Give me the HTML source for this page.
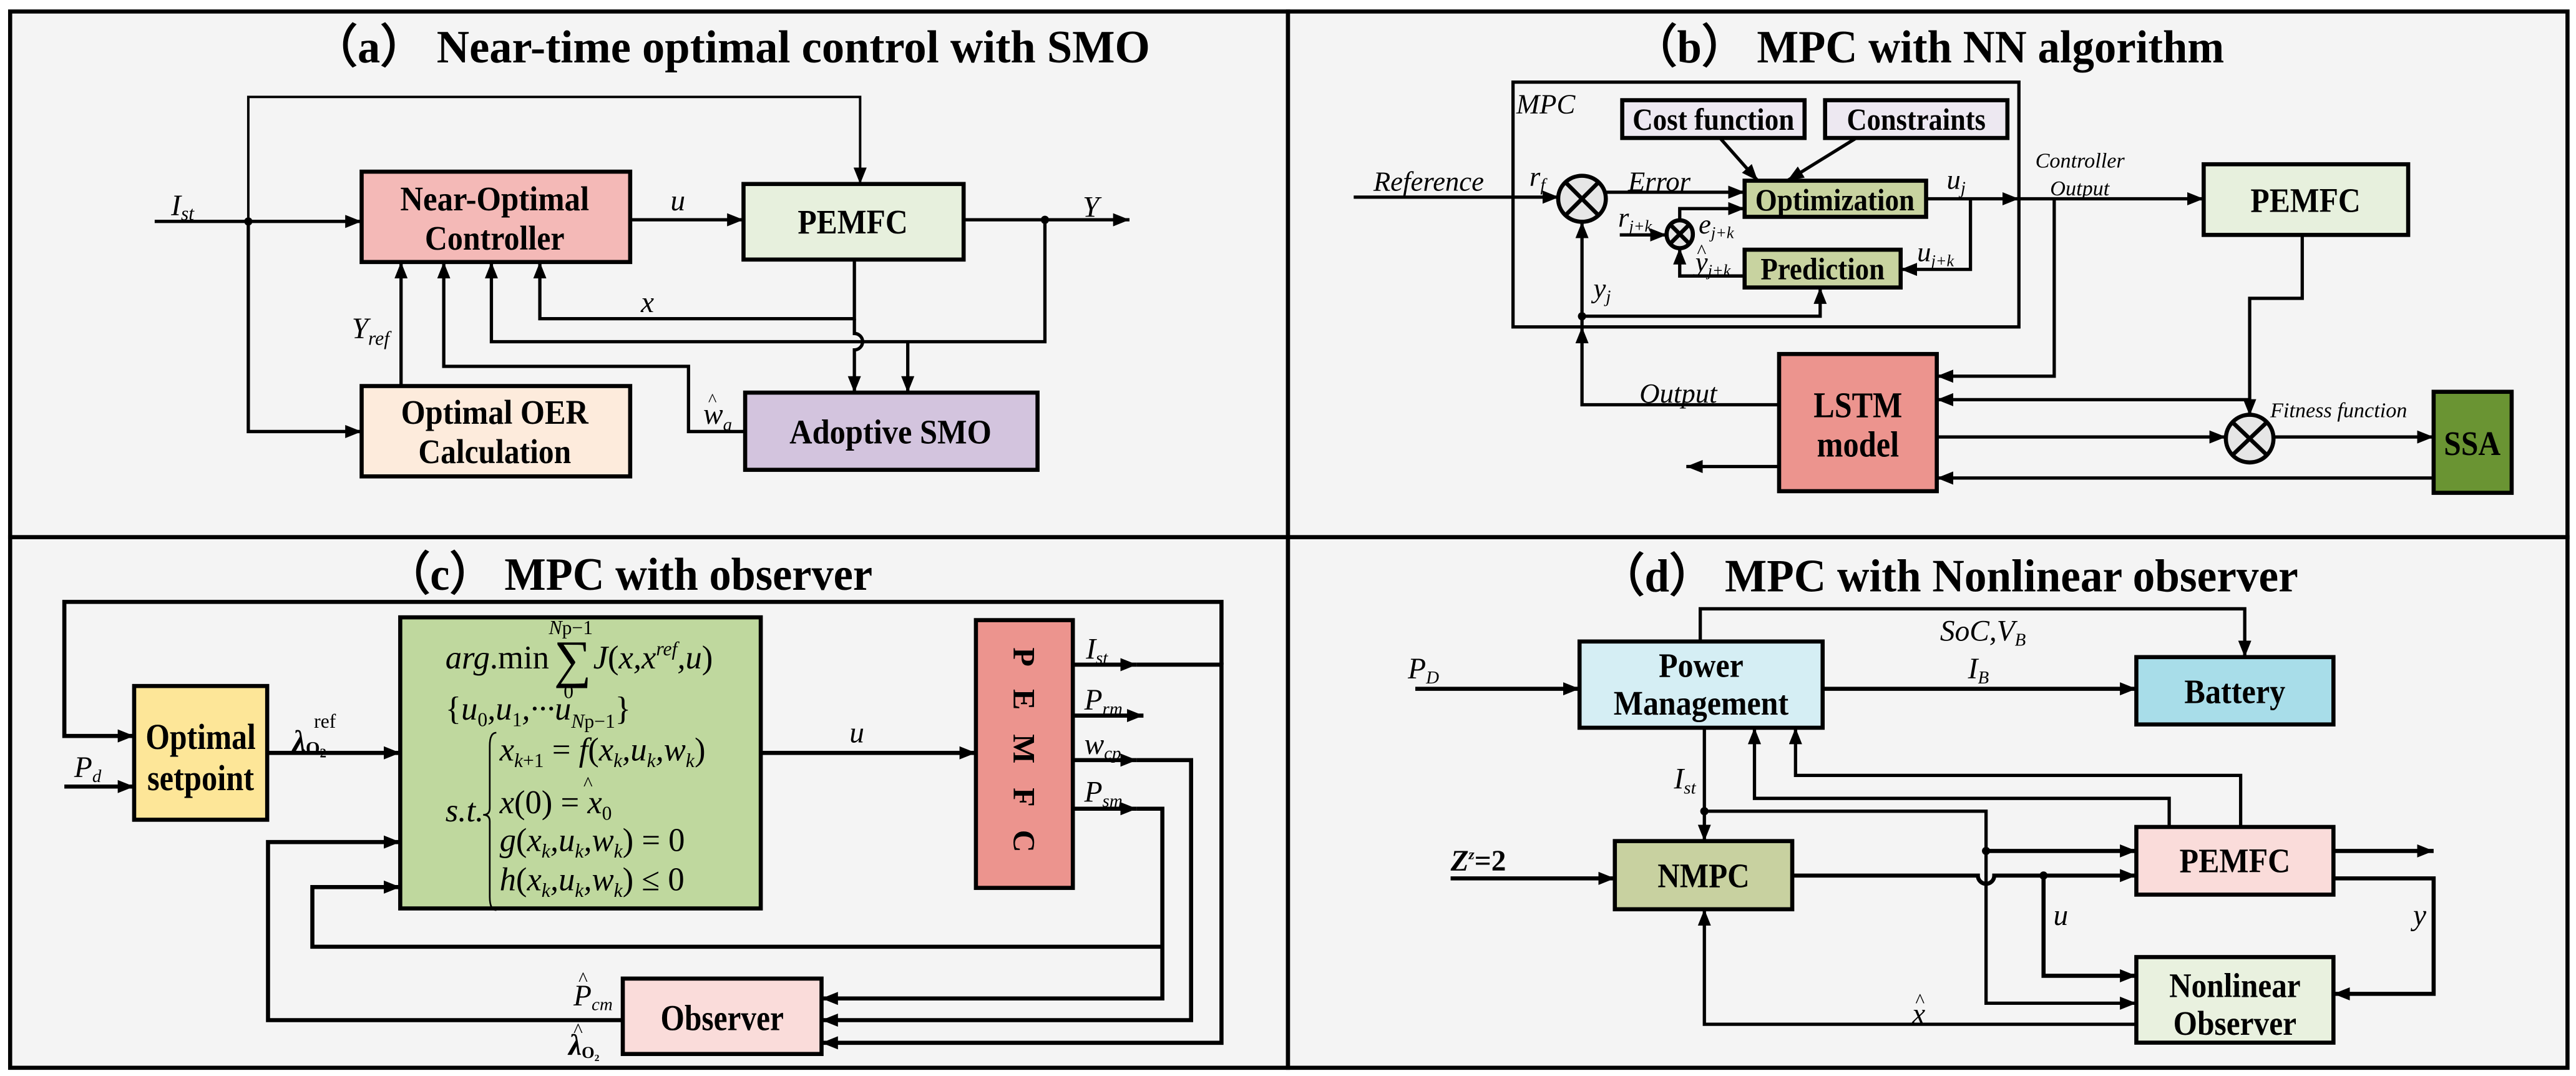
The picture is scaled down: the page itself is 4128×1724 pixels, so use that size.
<!DOCTYPE html>
<html><head><meta charset="utf-8"><style>html,body{margin:0;padding:0;background:#fff}svg{display:block}svg text{font-family:"Liberation Serif","DejaVu Serif",serif}</style></head><body>
<svg width="4128" height="1724" viewBox="0 0 1568 655" xmlns="http://www.w3.org/2000/svg">
<defs>
<marker id="a" viewBox="0 0 10 8" refX="10" refY="4" markerWidth="10" markerHeight="8" markerUnits="userSpaceOnUse" orient="auto"><path d="M0,0L10,4L0,8z" fill="#000"/></marker>
</defs>
<rect width="1568" height="655" fill="#fff"/>
<g fill="#f4f4f4" stroke="#000" stroke-width="2.5">
<rect x="6" y="7" width="778" height="320"/>
<rect x="784" y="7" width="779" height="320"/>
<rect x="6" y="327" width="778" height="323"/>
<rect x="784" y="327" width="779" height="323"/>
</g>
<g font-weight="bold" font-size="28" text-anchor="start">
<text x="190" y="38" textLength="510" lengthAdjust="spacingAndGlyphs">（a） Near-time optimal control with SMO</text>
<text x="994" y="38" textLength="360" lengthAdjust="spacingAndGlyphs">（b） MPC with NN algorithm</text>
<text x="235" y="359" textLength="296" lengthAdjust="spacingAndGlyphs">（c） MPC with observer</text>
<text x="974" y="360" textLength="425" lengthAdjust="spacingAndGlyphs">（d） MPC with Nonlinear observer</text>
</g>

<!-- Panel A -->
<g stroke="#000" stroke-width="2.5">
<rect x="220" y="104.5" width="163.5" height="55" fill="#f4b9b7"/>
<rect x="452.5" y="112" width="134" height="46" fill="#e7f0dd"/>
<rect x="220" y="235" width="163.5" height="55" fill="#fdebdc"/>
<rect x="453.5" y="239" width="178" height="47" fill="#d3c4de"/>
</g>
<g stroke="#000" stroke-width="2" fill="none" marker-end="url(#a)">
<path d="M94,134.8H220"/>
<path d="M151,134.8V59H523.5V112" stroke-width="1.5"/>
<path d="M151,134.8V262.7H220"/>
<path d="M383.5,133.8H452.5"/>
<path d="M586.5,133.8H687.5"/>
<path d="M520,158V194H328.5V159.5"/>
<path d="M520,194V203a5,5 0 0 1 0,10V239"/>
<path d="M636,133.8V208H299V159.5"/>
<path d="M552.5,208V239"/>
<path d="M453.5,262.7H419V223H270V159.5"/>
<path d="M244,235V159.5"/>
</g>
<circle cx="151" cy="134.8" r="2.5"/><circle cx="636" cy="133.8" r="2.5"/>
<g font-weight="bold" font-size="21" text-anchor="middle" lengthAdjust="spacingAndGlyphs">
<text x="301" y="128" textLength="115" lengthAdjust="spacingAndGlyphs">Near-Optimal</text><text x="301" y="152" textLength="85" lengthAdjust="spacingAndGlyphs">Controller</text>
<text x="519" y="142" textLength="67" lengthAdjust="spacingAndGlyphs">PEMFC</text>
<text x="301" y="258" textLength="114" lengthAdjust="spacingAndGlyphs">Optimal OER</text><text x="301" y="282" textLength="93" lengthAdjust="spacingAndGlyphs">Calculation</text>
<text x="542" y="270" textLength="123" lengthAdjust="spacingAndGlyphs">Adoptive SMO</text>
</g>
<g font-style="italic" font-size="18">
<text x="104" y="131">I<tspan font-size="12" dy="3">st</tspan></text>
<text x="408" y="128">u</text>
<text x="659" y="132">Y</text>
<text x="390" y="190">x</text>
<text x="214" y="206">Y<tspan font-size="12" dy="4">ref</tspan></text>
<text x="428" y="258">w<tspan font-size="11" dy="4">a</tspan></text>
<text x="431" y="247" font-size="11" font-style="normal">^</text>
</g>

<!-- Panel B -->
<rect x="921" y="50" width="308" height="149" fill="none" stroke="#000" stroke-width="2"/>
<g stroke="#000" stroke-width="2.5">
<rect x="987.5" y="61" width="111" height="23" fill="#ede8f1"/>
<rect x="1111" y="61" width="111" height="23" fill="#ede8f1"/>
<rect x="1062" y="110" width="110.5" height="22" fill="#c8d3a0"/>
<rect x="1062" y="152" width="95" height="23" fill="#c8d3a0"/>
<rect x="1341.5" y="100" width="124.5" height="43" fill="#e7f0dd"/>
<rect x="1083" y="215.5" width="96" height="83.5" fill="#ec948e"/>
<rect x="1481.5" y="238.5" width="47.5" height="61.5" fill="#6a9433"/>
</g>
<g stroke="#000" stroke-width="2" fill="none" marker-end="url(#a)">
<path d="M824,120H949"/>
<path d="M977,117H1062"/>
<path d="M1022.5,134V127H1062"/>
<path d="M986,143H1014.5"/>
<path d="M1062,168H1022.5V151"/>
<path d="M1047,84L1070,110"/>
<path d="M1130,84L1088,110"/>
<path d="M1172.5,121H1229"/>
<path d="M1229,121H1341.5"/>
<path d="M1199.5,121V164H1157"/>
<path d="M1083,246.4H963V199"/>
<path d="M963,199V135"/>
<path d="M963,192.5H1108V175"/>
<path d="M1250.5,121V229H1179"/>
<path d="M1401.5,143V181.6H1369.5V253"/>
<path d="M1369.5,243.3H1179"/>
<path d="M1179,266H1355"/>
<path d="M1384,266H1481.5"/>
<path d="M1481.5,291H1179"/>
<path d="M1083,284H1026.5"/>
</g>
<circle cx="963" cy="192.5" r="2.5"/>
<g stroke="#000" stroke-width="2.5" fill="#e6e6e6">
<ellipse cx="963" cy="121" rx="14.5" ry="14"/>
<ellipse cx="1022.5" cy="142.6" rx="8" ry="8.5"/>
<ellipse cx="1369.5" cy="267" rx="14.5" ry="14.5"/>
</g>
<g stroke="#000" stroke-width="2.5">
<path d="M953,111L973,131M973,111L953,131"/>
<path d="M1017,137L1028,148M1028,137L1017,148"/>
<path d="M1359,257L1380,277M1380,257L1359,277"/>
</g>
<g font-weight="bold" font-size="19" text-anchor="middle">
<text x="1043" y="79" textLength="98.5" lengthAdjust="spacingAndGlyphs">Cost function</text>
<text x="1166.5" y="79" textLength="84.5" lengthAdjust="spacingAndGlyphs">Constraints</text>
<text x="1117" y="128" textLength="97" lengthAdjust="spacingAndGlyphs">Optimization</text>
<text x="1109.5" y="170" textLength="75.5" lengthAdjust="spacingAndGlyphs">Prediction</text>
<text x="1403.5" y="129" font-size="21" textLength="67" lengthAdjust="spacingAndGlyphs">PEMFC</text>
<text x="1131" y="254" font-size="22" textLength="54" lengthAdjust="spacingAndGlyphs">LSTM</text>
<text x="1131" y="278" font-size="22" textLength="50" lengthAdjust="spacingAndGlyphs">model</text>
<text x="1505" y="277" font-size="21" textLength="34.5" lengthAdjust="spacingAndGlyphs">SSA</text>
</g>
<g font-style="italic" font-size="17">
<text x="923" y="69">MPC</text>
<text x="836" y="116">Reference</text>
<text x="931" y="113">r<tspan font-size="11" dy="3">f</tspan></text>
<text x="991" y="116">Error</text>
<text x="1185" y="115">u<tspan font-size="11" dy="3">j</tspan></text>
<text x="1239" y="102" font-size="13">Controller</text>
<text x="1248" y="119" font-size="13">Output</text>
<text x="985" y="138">r<tspan font-size="10" dy="3">j+k</tspan></text>
<text x="1034" y="142">e<tspan font-size="10" dy="3">j+k</tspan></text>
<text x="1032" y="165">y<tspan font-size="10" dy="3">j+k</tspan></text>
<text x="1033" y="157" font-size="12" font-style="normal">^</text>
<text x="1167" y="159">u<tspan font-size="10" dy="3">j+k</tspan></text>
<text x="970" y="181">y<tspan font-size="11" dy="3">j</tspan></text>
<text x="998" y="245">Output</text>
<text x="1382" y="254" font-size="13">Fitness function</text>
</g>

<!-- Panel C -->
<g stroke="#000" stroke-width="2.5">
<rect x="81.5" y="417.6" width="81" height="81.4" fill="#fde698"/>
<rect x="243.5" y="375.8" width="219.5" height="177.2" fill="#bfd89e"/>
<rect x="594" y="377.5" width="59" height="163" fill="#ec948e"/>
<rect x="379" y="595.7" width="121" height="45.9" fill="#fadcda"/>
</g>
<g stroke="#000" stroke-width="2.5" fill="none" marker-end="url(#a)">
<path d="M743.5,404.6V366.4H39V448H81.5"/>
<path d="M39,478.8H81.5"/>
<path d="M162.5,458.3H243.5"/>
<path d="M463,458.3H594"/>
<path d="M653,404.6H692"/>
<path d="M653,435.6H696"/>
<path d="M653,462.7H692"/>
<path d="M653,492.3H692"/>
<path d="M692,404.6H743.5V634.8H500"/>
<path d="M692,462.7H725V621H500"/>
<path d="M692,492.3H707.5V607.8H500"/>
<path d="M707.5,576.3H190V540H243.5"/>
<path d="M379,621H163V512.6H243.5"/>
</g>
<g font-weight="bold" font-size="22" text-anchor="middle">
<text x="122" y="456" textLength="67" lengthAdjust="spacingAndGlyphs">Optimal</text><text x="122" y="481" textLength="65" lengthAdjust="spacingAndGlyphs">setpoint</text>
<text x="439.5" y="627" textLength="75" lengthAdjust="spacingAndGlyphs">Observer</text>
<text transform="translate(617,459) rotate(90)" font-size="19" letter-spacing="5">P E M F C</text>
</g>
<g font-style="italic" font-size="18">
<text x="45" y="473">P<tspan font-size="11" dy="3">d</tspan></text>
<text x="178" y="457" font-weight="bold">λ<tspan font-size="11" font-style="normal" dy="2">O<tspan font-size="8" dy="2">2</tspan></tspan></text>
<text x="191" y="443" font-size="12" font-style="normal">ref</text>
<text x="517" y="452">u</text>
<text x="661" y="401">I<tspan font-size="11" dy="3">st</tspan></text>
<text x="660" y="432">P<tspan font-size="11" dy="3">rm</tspan></text>
<text x="660" y="459">w<tspan font-size="11" dy="3">cp</tspan></text>
<text x="660" y="488">P<tspan font-size="11" dy="3">sm</tspan></text>
<text x="349" y="612">P<tspan font-size="11" dy="3">cm</tspan></text>
<text x="352" y="600" font-size="12" font-style="normal">^</text>
<text x="346" y="642" font-weight="bold">λ<tspan font-size="10" font-style="normal" dy="2">O₂</tspan></text>
<text x="349" y="631" font-size="12" font-style="normal">^</text>
</g>
<g font-style="italic" font-size="20">
<text x="271" y="407">arg<tspan font-style="normal">.min</tspan></text>
<text x="337" y="412" font-style="normal" font-size="32">∑</text>
<text x="334" y="386" font-size="12">N<tspan font-style="normal">p−1</tspan></text>
<text x="343" y="425" font-size="12" font-style="normal">0</text>
<text x="361" y="407">J<tspan font-style="normal">(</tspan>x,x<tspan font-size="12" dy="-8">ref</tspan><tspan dy="8">,u</tspan><tspan font-style="normal">)</tspan></text>
<text x="271" y="438"><tspan font-style="normal">{</tspan>u<tspan font-size="12" dy="4" font-style="normal">0</tspan><tspan dy="-4">,u</tspan><tspan font-size="12" dy="4" font-style="normal">1</tspan><tspan dy="-4">,···u</tspan><tspan font-size="12" dy="5">N<tspan font-style="normal">p−1</tspan></tspan><tspan dy="-5" font-style="normal">}</tspan></text>
<text x="271" y="500">s.t.</text>
<path d="M302,446 q-4,0 -4,8 v38 q0,4 -4,4 q4,0 4,4 v46 q0,8 4,8" fill="none" stroke="#000" stroke-width="1"/>
<text x="304" y="463">x<tspan font-size="12" dy="4">k<tspan font-style="normal">+1</tspan></tspan><tspan dy="-4" font-style="normal"> = </tspan>f<tspan font-style="normal">(</tspan>x<tspan font-size="12" dy="4">k</tspan><tspan dy="-4">,u</tspan><tspan font-size="12" dy="4">k</tspan><tspan dy="-4">,w</tspan><tspan font-size="12" dy="4">k</tspan><tspan dy="-4" font-style="normal">)</tspan></text>
<text x="304" y="495">x<tspan font-style="normal">(0) = </tspan>x<tspan font-size="12" dy="4" font-style="normal">0</tspan></text>
<text x="355" y="481" font-size="12" font-style="normal">^</text>
<text x="304" y="518">g<tspan font-style="normal">(</tspan>x<tspan font-size="12" dy="4">k</tspan><tspan dy="-4">,u</tspan><tspan font-size="12" dy="4">k</tspan><tspan dy="-4">,w</tspan><tspan font-size="12" dy="4">k</tspan><tspan dy="-4" font-style="normal">) = 0</tspan></text>
<text x="304" y="542">h<tspan font-style="normal">(</tspan>x<tspan font-size="12" dy="4">k</tspan><tspan dy="-4">,u</tspan><tspan font-size="12" dy="4">k</tspan><tspan dy="-4">,w</tspan><tspan font-size="12" dy="4">k</tspan><tspan dy="-4" font-style="normal">) ≤ 0</tspan></text>
</g>

<!-- Panel D -->
<g stroke="#000" stroke-width="2.5">
<rect x="961.5" y="390.5" width="148" height="52.5" fill="#d5eef4"/>
<rect x="1300.5" y="400" width="120" height="41" fill="#a8dde9"/>
<rect x="983" y="512" width="108" height="41.5" fill="#c8d1a0"/>
<rect x="1300.5" y="503.4" width="120" height="41.2" fill="#fadcda"/>
<rect x="1300.5" y="582.6" width="120" height="52.1" fill="#e9f1df"/>
</g>
<g stroke="#000" stroke-width="2.5" fill="none" marker-end="url(#a)">
<path d="M1035,390.5V370.6H1366.5V400" stroke-width="2"/>
<path d="M861.5,419.3H961.5"/>
<path d="M1109.5,419.3H1300.5"/>
<path d="M1037.5,443V512" stroke-width="2"/>
<path d="M1037.5,493.8H1209V610.7H1300.5" stroke-width="2"/>
<path d="M1209,518H1300.5"/>
<path d="M1320.5,503.4V486H1068V443" stroke-width="2"/>
<path d="M1364,503.4V472H1093V443" stroke-width="2"/>
<path d="M883,534.7H983"/>
<path d="M1091,533H1204a5,5 0 0 0 10,0H1300.5"/>
<path d="M1244,533V594H1300.5"/>
<path d="M1420.5,518H1481.5"/>
<path d="M1420.5,534.7H1481.5V605H1420.5"/>
<path d="M1300.5,623.5H1037.5V553.5" stroke-width="2"/>
</g>
<circle cx="1037.5" cy="493.8" r="2.5"/><circle cx="1209" cy="518" r="2.5"/><circle cx="1244" cy="533" r="2.5"/>
<g font-weight="bold" font-size="21" text-anchor="middle">
<text x="1035.5" y="412" textLength="51.5" lengthAdjust="spacingAndGlyphs">Power</text><text x="1035.5" y="435" textLength="106.5" lengthAdjust="spacingAndGlyphs">Management</text>
<text x="1360.5" y="428" textLength="61.5" lengthAdjust="spacingAndGlyphs">Battery</text>
<text x="1037" y="540" textLength="56" lengthAdjust="spacingAndGlyphs">NMPC</text>
<text x="1360.5" y="531" textLength="67.5" lengthAdjust="spacingAndGlyphs">PEMFC</text>
<text x="1360.5" y="607" textLength="80" lengthAdjust="spacingAndGlyphs">Nonlinear</text><text x="1360.5" y="630" textLength="75" lengthAdjust="spacingAndGlyphs">Observer</text>
</g>
<g font-style="italic" font-size="18">
<text x="1181" y="390">SoC,V<tspan font-size="11" dy="3">B</tspan></text>
<text x="857" y="413">P<tspan font-size="11" dy="3">D</tspan></text>
<text x="1198" y="413">I<tspan font-size="11" dy="3">B</tspan></text>
<text x="1019" y="480">I<tspan font-size="11" dy="3">st</tspan></text>
<text x="883" y="530" font-weight="bold">Z<tspan font-size="9" dy="-7">z</tspan><tspan dy="7" font-style="normal">=2</tspan></text>
<text x="1250" y="563">u</text>
<text x="1469" y="563">y</text>
<text x="1164" y="623">x</text>
<text x="1166" y="613" font-size="12" font-style="normal">^</text>
</g>
</svg>
</body></html>
